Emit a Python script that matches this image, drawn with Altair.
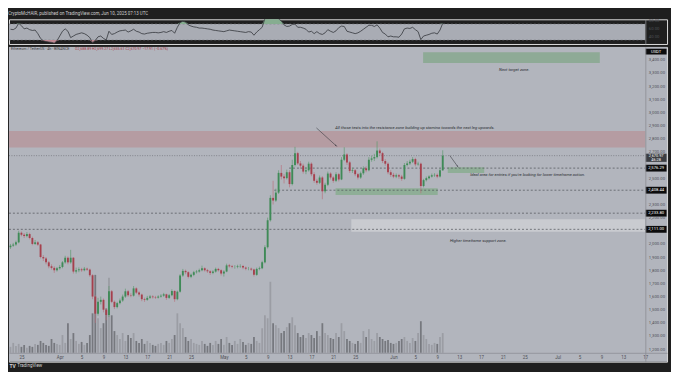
import altair as alt
import pandas as pd
import numpy as np

# ---------------- text ----------------
TITLE = "CryptoMcHAIR, published on TradingView.com, Jun 10, 2025 07:13 UTC"
SYMBOL = "Ethereum / TetherUS · 4h · BINANCE"
OHLC_TEXT = "O2,688.89  H2,699.27  L2,655.61  C2,670.97  −17.91 (−0.67%)"

# ---------------- candles (12h resolution) ----------------
first_candle = "2025-03-23 00:00"
first_open = 1975
closes = [1987, 1995, 2012, 2085, 2070, 2060, 2075, 2045, 2000, 2012,
          1995, 1900, 1890, 1860, 1830, 1818, 1800, 1815, 1825, 1860,
          1895, 1860, 1895, 1790, 1800, 1807, 1800, 1812, 1805, 1762,
          1600, 1470, 1560, 1575, 1500, 1460, 1640, 1560, 1520, 1550,
          1570, 1600, 1640, 1610, 1607, 1662, 1630, 1615, 1580, 1575,
          1590, 1600, 1595, 1592, 1600, 1607, 1617, 1590, 1610, 1642,
          1580, 1637, 1760, 1795, 1785, 1750, 1765, 1785, 1790, 1800,
          1815, 1800, 1792, 1780, 1790, 1810, 1800, 1775, 1790, 1837,
          1830, 1825, 1825, 1830, 1832, 1820, 1812, 1812, 1805, 1765,
          1810, 1815, 1860, 1975, 2180, 2350, 2330, 2390, 2540, 2512,
          2500, 2545, 2455, 2600, 2690, 2612, 2595, 2550, 2560, 2610,
          2530, 2480, 2465, 2505, 2400, 2450, 2535, 2505, 2480, 2530,
          2490, 2640, 2680, 2620, 2555, 2560, 2530, 2505, 2537, 2575,
          2560, 2640, 2650, 2660, 2710, 2690, 2630, 2610, 2545, 2525,
          2512, 2522, 2512, 2495, 2600, 2612, 2625, 2645, 2605, 2610,
          2440, 2485, 2500, 2512, 2522, 2525, 2512, 2560, 2670.97]
highs = [2000, 2008, 2025, 2100, 2095, 2082, 2090, 2085, 2055, 2030,
         2022, 2000, 1915, 1900, 1870, 1845, 1830, 1825, 1840, 1870,
         1910, 1905, 1955, 1900, 1820, 1822, 1818, 1825, 1820, 1812,
         1770, 1610, 1590, 1600, 1585, 1510, 1680, 1650, 1570, 1560,
         1585, 1615, 1660, 1650, 1625, 1680, 1670, 1640, 1622, 1592,
         1605, 1612, 1610, 1605, 1610, 1618, 1628, 1622, 1620, 1655,
         1648, 1645, 1770, 1810, 1805, 1792, 1775, 1795, 1802, 1812,
         1835, 1822, 1810, 1800, 1800, 1820, 1818, 1808, 1800, 1850,
         1848, 1840, 1838, 1842, 1845, 1840, 1828, 1825, 1820, 1812,
         1820, 1828, 1872, 1990, 2200, 2370, 2480, 2420, 2560, 2600,
         2530, 2565, 2560, 2640, 2738, 2700, 2630, 2610, 2585, 2625,
         2620, 2545, 2495, 2520, 2515, 2465, 2550, 2545, 2515, 2545,
         2540, 2660, 2735, 2690, 2630, 2580, 2570, 2540, 2550, 2590,
         2590, 2660, 2670, 2685, 2780, 2725, 2700, 2645, 2620, 2560,
         2540, 2535, 2532, 2525, 2615, 2630, 2640, 2660, 2655, 2625,
         2618, 2495, 2512, 2522, 2535, 2538, 2535, 2572, 2712]
lows = [1962, 1978, 1985, 2005, 2058, 2045, 2050, 2035, 1990, 1992,
        1985, 1890, 1870, 1845, 1815, 1805, 1780, 1790, 1805, 1815,
        1850, 1845, 1850, 1775, 1775, 1785, 1788, 1792, 1795, 1750,
        1580, 1400, 1455, 1540, 1480, 1420, 1445, 1550, 1505, 1510,
        1540, 1560, 1590, 1598, 1595, 1600, 1620, 1600, 1565, 1560,
        1568, 1582, 1585, 1582, 1585, 1592, 1598, 1575, 1582, 1602,
        1560, 1572, 1630, 1750, 1770, 1738, 1740, 1755, 1775, 1782,
        1792, 1790, 1780, 1765, 1770, 1782, 1790, 1760, 1752, 1785,
        1820, 1815, 1812, 1815, 1818, 1808, 1800, 1800, 1795, 1752,
        1758, 1800, 1808, 1852, 1965, 2170, 2300, 2320, 2380, 2490,
        2460, 2490, 2430, 2445, 2590, 2600, 2570, 2535, 2530, 2550,
        2515, 2465, 2450, 2455, 2340, 2385, 2440, 2490, 2465, 2470,
        2475, 2485, 2630, 2600, 2540, 2540, 2515, 2490, 2495, 2525,
        2545, 2552, 2625, 2630, 2650, 2670, 2615, 2595, 2530, 2510,
        2500, 2500, 2495, 2480, 2488, 2590, 2600, 2615, 2590, 2595,
        2385, 2430, 2475, 2490, 2505, 2510, 2500, 2505, 2555]
volumes = [6, 10, 7, 9, 6, 8, 5, 7, 6, 9,
           8, 12, 10, 8, 7, 14, 10, 9, 8, 18,
           10, 30, 14, 20, 12, 9, 11, 8, 10, 18,
           40, 79, 35, 25, 30, 45, 76, 38, 22, 18,
           14, 20, 12, 18, 15, 20, 12, 10, 14, 9,
           12, 10, 8, 7, 9, 10, 8, 12, 10, 14,
           18, 40, 30, 25, 16, 12, 14, 10, 9, 8,
           12, 9, 7, 10, 8, 12, 9, 14, 8, 16,
           10, 8, 12, 9, 14, 11, 8, 10, 9, 16,
           12, 10, 25, 38, 35, 72, 30, 28, 25, 20,
           22, 26, 30, 36, 28, 20, 16, 18, 15, 20,
           18, 15, 22, 17, 30, 20, 18, 15, 14, 20,
           16, 30, 22, 14, 12, 10, 9, 12, 10, 22,
           16, 24, 14, 12, 20, 16, 14, 12, 13, 10,
           9, 10, 12, 14, 16, 12, 10, 15, 12, 20,
           32, 18, 14, 9, 8, 10, 9, 16, 20]
rsi_values = [57, 56, 60, 72, 66, 58, 60, 56, 54, 55,
              46, 34, 28, 26, 25, 24, 22, 28, 40, 52,
              58, 52, 36, 40, 44, 46, 48, 46, 42, 36,
              23, 29, 38, 40, 34, 30, 52, 44, 46, 50,
              53, 54, 55, 50, 53, 57, 52, 50, 46, 45,
              47, 48, 49, 49, 48, 49, 51, 49, 52, 54,
              47, 62, 74, 77, 75, 68, 65, 63, 62, 60,
              60, 59, 58, 57, 55, 54, 53, 52, 51, 53,
              55, 54, 53, 52, 51, 50, 49, 51, 50, 42,
              50, 56, 62, 84, 90, 95, 93, 90, 83, 78,
              68, 64, 65, 69, 70, 62, 62, 60, 57, 50,
              52, 46, 51, 46, 44, 48, 56, 52, 49, 53,
              61, 65, 64, 52, 50, 48, 46, 48, 52, 57,
              62, 67, 67, 64, 68, 60, 49, 45, 38, 40,
              38, 38, 37, 45, 58, 60, 59, 62, 56, 51,
              31, 40, 42, 44, 47, 48, 45, 55, 72]

# ---------------- axes ----------------
x_ticks = ["2025-03-25", "2025-04-01", "2025-04-05", "2025-04-09", "2025-04-13",
           "2025-04-17", "2025-04-21", "2025-04-25", "2025-05-01", "2025-05-05",
           "2025-05-09", "2025-05-13", "2025-05-17", "2025-05-21", "2025-05-25",
           "2025-06-01", "2025-06-05", "2025-06-09", "2025-06-13", "2025-06-17",
           "2025-06-21", "2025-06-25", "2025-07-01", "2025-07-05", "2025-07-09",
           "2025-07-13", "2025-07-17"]
# 2,100 / 2,400 / 2,600 sit under the price-line labels in the reference
price_ticks = [1200, 1300, 1400, 1500, 1600, 1700, 1800, 1900, 2000, 2200, 2300,
               2500, 2700, 2800, 2900, 3000, 3100, 3200, 3300, 3400]
rsi_ticks = [40, 60, 80]

# ---------------- annotations ----------------
X_LEFT = "2025-03-22 17:27"
X_AXIS = "2025-07-17 00:00"
X_RIGHT = "2025-07-21 00:00"
X_BOX = "2025-07-19 00:00"
X_BOX_L = "2025-07-17 02:00"
X_BOX_R = "2025-07-20 22:00"

zone_start = [X_LEFT, "2025-06-06 10:00", "2025-06-10 22:00", "2025-05-21 10:00", "2025-05-24 07:00"]
zone_end = [X_AXIS, "2025-07-08 17:00", "2025-06-17 14:00", "2025-06-09 02:00", X_AXIS]
zone_low = [2733, 3375, 2540, 2372, 2093]
zone_high = [2858, 3458, 2582, 2423, 2187]
zone_fill = ["#b59ca2", "#8eaa96", "#8fae97", "#8fae97", "#c9cbd0"]

dotted_price = [2670.97]
dotted_start = [X_LEFT]
dashed_price = [2576.29, 2408.44, 2233.80, 2111.00]
dashed_start = ["2025-05-12 22:00", "2025-05-10 05:00", X_LEFT, X_LEFT]

arrow_from_t = ["2025-05-17 22:00", "2025-06-11 07:00"]
arrow_from_p = [2882, 2672]
arrow_to_t = ["2025-05-21 12:00", "2025-06-12 17:00"]
arrow_to_p = [2747, 2590]
arrow_angle = [132, 144]

note_text = ["All those tests into the resistance zone building up stamina towards the next leg upwards.",
             "Ideal area for entries if you're looking for lower timeframe action.",
             "Higher timeframe support zone.",
             "Next target zone."]
note_t = ["2025-06-04 22:00", "2025-06-25 12:00", "2025-06-16 12:00", "2025-06-23 02:00"]
note_p = [2884, 2522, 2020, 3325]

# price-scale tags: label, price, box half-height (price units), fill
tag_text = ["USDT", "2,576.29", "2,408.44", "2,233.80", "2,111.00"]
tag_price = [3462.0, 2576.29, 2408.44, 2233.80, 2111.00]
tag_half = [22, 26, 26, 26, 26]
tag_fill = ["#0c0c0d", "#0c0c0d", "#0c0c0d", "#0c0c0d", "#0c0c0d"]
cur_price_box = 2655.0
cur_half = 31
cur_lines = ["2,670.97", "46:28"]
cur_line_price = [2668.0, 2639.0]


def ms(s):
    return int(pd.Timestamp(s, tz="UTC").value // 10**6)


# ---------------- frames ----------------
times = pd.date_range(first_candle, periods=len(closes), freq="12h", tz="UTC")
opens = [first_open] + closes[:-1]
df = pd.DataFrame({
    "t": (times.asi8 // 10**6).tolist(),
    "open": opens, "close": closes, "high": highs, "low": lows,
    "vol": volumes, "rsi": rsi_values,
})
up = df["close"] >= df["open"]
df["body_c"] = np.where(up, "#3f8a57", "#a5404d")
df["wick_c"] = np.where(up, "#5e9a70", "#b8737f")
df["vol_c"] = np.where(up, "#9b9da4", "#76787e")

zones_df = pd.DataFrame({"x1": [ms(s) for s in zone_start], "x2": [ms(s) for s in zone_end],
                         "p1": zone_low, "p2": zone_high, "fill": zone_fill})
dotted_df = pd.DataFrame({"x1": [ms(s) for s in dotted_start], "x2": [ms(X_AXIS)] * len(dotted_price),
                          "p": dotted_price})
dashed_df = pd.DataFrame({"x1": [ms(s) for s in dashed_start], "x2": [ms(X_AXIS)] * len(dashed_price),
                          "p": dashed_price})
arrows_df = pd.DataFrame({"x1": [ms(s) for s in arrow_from_t], "p1": arrow_from_p,
                          "x2": [ms(s) for s in arrow_to_t], "p2": arrow_to_p, "ang": arrow_angle})
notes_df = pd.DataFrame({"x": [ms(s) for s in note_t], "p": note_p, "txt": note_text})
tags_df = pd.DataFrame({"x1": [ms(X_BOX_L)] * len(tag_price), "x2": [ms(X_BOX_R)] * len(tag_price),
                        "xc": [ms(X_BOX)] * len(tag_price),
                        "p": tag_price, "h": tag_half, "txt": tag_text, "fill": tag_fill})
tags_df.loc[len(tags_df)] = [ms(X_BOX_L), ms(X_BOX_R), ms(X_BOX), cur_price_box, cur_half, "", "#3c3e43"]
cur_txt_df = pd.DataFrame({"x": [ms(X_BOX)] * 2, "p": cur_line_price, "txt": cur_lines})

FONT = "Roboto"
AXIS_TXT = "#4e5056"
SEP = "#8b8d93"
PANE = "#b2b5bd"

XS = alt.Scale(type="utc", domain=[ms(X_LEFT), ms(X_RIGHT)], nice=False, padding=0)
XAX = alt.Axis(orient="bottom", offset=-9, values=[ms(s) for s in x_ticks],
               labelExpr="utcdate(datum.value) == 1 ? utcFormat(datum.value, '%b') : utcFormat(datum.value, '%-d')",
               labelFontSize=4.5, labelColor=AXIS_TXT, labelFont=FONT, ticks=False, grid=False,
               domainColor=SEP, domainWidth=0.8, labelPadding=2, title=None, labelFlush=False,
               labelOverlap=False, zindex=1)
YS = alt.Scale(domain=[1105, 3497.5], nice=False, zero=False, padding=0)
YAX = alt.Axis(orient="right", offset=-22, values=price_ticks, format=",.2f",
               labelFontSize=4.3, labelColor=AXIS_TXT, labelFont=FONT, ticks=False, grid=False,
               domainColor=SEP, domainWidth=0.8, labelPadding=3, title=None, labelFlush=False,
               labelOverlap=False, labelAlign="left", zindex=1)


def X(f):
    return alt.X(f, type="temporal", scale=XS, axis=XAX)


def Y(f, show=False):
    if show:
        return alt.Y(f, type="quantitative", scale=YS, axis=YAX)
    return alt.Y(f, type="quantitative", scale=YS, axis=None)


W = 667
H = 319

pane_bg = alt.Chart(pd.DataFrame({"a": [0]})).mark_rect(color=PANE).encode(
    x=alt.value(0), x2=alt.value(W), y=alt.value(0), y2=alt.value(H))

zones = alt.Chart(zones_df).mark_rect().encode(
    x=X("x1"), x2="x2:T", y=Y("p1"), y2="p2:Q", color=alt.Color("fill:N", scale=None))
dotted = alt.Chart(dotted_df).mark_rule(color="#6c6e74", strokeWidth=0.7, strokeDash=[1, 1.5]).encode(
    x=X("x1"), x2="x2:T", y=Y("p"))
dashed = alt.Chart(dashed_df).mark_rule(color="#4c4e54", strokeWidth=0.7, strokeDash=[2, 2]).encode(
    x=X("x1"), x2="x2:T", y=Y("p"))
wicks = alt.Chart(df).mark_rule(strokeWidth=0.7).encode(
    x=X("t"), y=Y("low", show=True), y2="high:Q", color=alt.Color("wick_c:N", scale=None))
bodies = alt.Chart(df).mark_bar(size=1.9).encode(
    x=X("t"), y=Y("open"), y2="close:Q", color=alt.Color("body_c:N", scale=None))
arrows = alt.Chart(arrows_df).mark_rule(color="#3a3c42", strokeWidth=0.6).encode(
    x=X("x1"), x2="x2:T", y=Y("p1"), y2="p2:Q")
heads = alt.Chart(arrows_df).mark_point(shape="wedge", filled=True, size=14, color="#3a3c42", opacity=1).encode(
    x=X("x2"), y=Y("p2"), angle=alt.Angle("ang:Q", scale=None))
notes = alt.Chart(notes_df).mark_text(font=FONT, fontStyle="italic", fontSize=4.2, color="#2b2d32").encode(
    x=X("x"), y=Y("p"), text="txt:N")

tag_boxes = alt.Chart(tags_df).transform_calculate(
    lo="datum.p - datum.h", hi="datum.p + datum.h").mark_rect().encode(
    x=X("x1"), x2="x2:T", y=Y("lo:Q"), y2="hi:Q", color=alt.Color("fill:N", scale=None))
tag_txt = alt.Chart(tags_df).mark_text(font=FONT, fontSize=4.2, color="#ffffff").encode(
    x=X("xc"), y=Y("p"), text="txt:N")
cur_txt = alt.Chart(cur_txt_df).mark_text(font=FONT, fontSize=3.9, color="#ffffff").encode(
    x=X("x"), y=Y("p"), text="txt:N")

hdr1 = alt.Chart(pd.DataFrame({"s": [SYMBOL]})).mark_text(
    font=FONT, fontSize=3.7, color="#3b3d42", align="left", baseline="middle").encode(
    x=alt.value(2), y=alt.value(2.5), text="s:N")
hdr2 = alt.Chart(pd.DataFrame({"s": [OHLC_TEXT]})).mark_text(
    font=FONT, fontSize=3.6, color="#a33a48", align="left", baseline="middle").encode(
    x=alt.value(67), y=alt.value(2.5), text="s:N")
logo1 = alt.Chart(pd.DataFrame({"s": ["TV"]})).mark_text(
    font=FONT, fontSize=5, fontWeight="bold", color="#d6d6d6", align="left", baseline="middle").encode(
    x=alt.value(0.5), y=alt.value(323.5), text="s:N")
logo2 = alt.Chart(pd.DataFrame({"s": ["TradingView"]})).mark_text(
    font=FONT, fontSize=4.6, color="#d6d6d6", align="left", baseline="middle").encode(
    x=alt.value(8.5), y=alt.value(323.5), text="s:N")

vol = alt.Chart(df).mark_bar(size=1.8).encode(
    x=X("t"),
    y=alt.Y("vol:Q", scale=alt.Scale(domain=[-9, 310], nice=False, zero=False, padding=0), axis=None),
    y2=alt.datum(0),
    color=alt.Color("vol_c:N", scale=None))

main = alt.layer(pane_bg, vol, zones, dotted, dashed, wicks, bodies, arrows, heads, notes,
                 tag_boxes, tag_txt, cur_txt,
                 hdr1, hdr2, logo1, logo2).resolve_scale(y="independent").properties(width=W, height=H)

# ---------------- RSI pane ----------------
RH = 25
RS = alt.Scale(domain=[20, 82], nice=False, zero=False, padding=0)
RXS = alt.Scale(type="utc", domain=[ms(X_LEFT), ms(X_RIGHT)], nice=False, padding=0)
RAX = alt.Axis(orient="right", offset=-22, values=rsi_ticks, format=".2f",
               labelFontSize=4.3, labelColor=AXIS_TXT, labelFont=FONT, ticks=False, grid=False,
               domainColor=SEP, domainWidth=0.8, labelPadding=3, title=None, labelFlush=False,
               labelOverlap=False, labelAlign="left", zindex=1)
RX = alt.X("t:T", scale=RXS, axis=None)

band_df = pd.DataFrame({"x1": [ms(X_LEFT)], "x2": [ms(X_AXIS)], "lo": [30], "hi": [70]})
band = alt.Chart(band_df).mark_rect(color="#a9acb4").encode(
    x=alt.X("x1:T", scale=RXS, axis=None), x2="x2:T",
    y=alt.Y("lo:Q", scale=RS, axis=RAX), y2="hi:Q")
lvl_df = pd.DataFrame({"x1": [ms(X_LEFT)] * 2, "x2": [ms(X_AXIS)] * 2, "v": [30, 70]})
lvls = alt.Chart(lvl_df).mark_rule(color="#7c7e84", strokeWidth=0.6, strokeDash=[2, 2]).encode(
    x=alt.X("x1:T", scale=RXS, axis=None), x2="x2:T", y=alt.Y("v:Q", scale=RS, axis=RAX))
ob = alt.Chart(df).transform_calculate(hi="max(datum.rsi, 70)").mark_area(
    color="#86ad90", clip=True).encode(x=RX, y=alt.Y("hi:Q", scale=RS, axis=RAX), y2=alt.datum(70))
os_ = alt.Chart(df).transform_calculate(lo="min(datum.rsi, 30)").mark_area(
    color="#c08a94", clip=True).encode(x=RX, y=alt.Y("lo:Q", scale=RS, axis=RAX), y2=alt.datum(30))
rline = alt.Chart(df).mark_line(color="#34363b", strokeWidth=0.8, clip=True).encode(
    x=RX, y=alt.Y("rsi:Q", scale=RS, axis=RAX))
rsi_chart = alt.layer(band, lvls, ob, os_, rline).properties(width=W, height=RH)

chart = alt.vconcat(rsi_chart, main, spacing=1).properties(
    title=alt.TitleParams(TITLE, anchor="start", fontSize=4.5, color="#cfcfcf", font=FONT,
                          fontWeight="normal", offset=2),
    padding={"left": 0, "top": 0, "right": 3, "bottom": 0},
    background="#1f1f1f",
).configure_view(fill=PANE, strokeWidth=0).configure(font=FONT)

chart.save("out.html", embed_options={"renderer": "svg", "actions": False})
